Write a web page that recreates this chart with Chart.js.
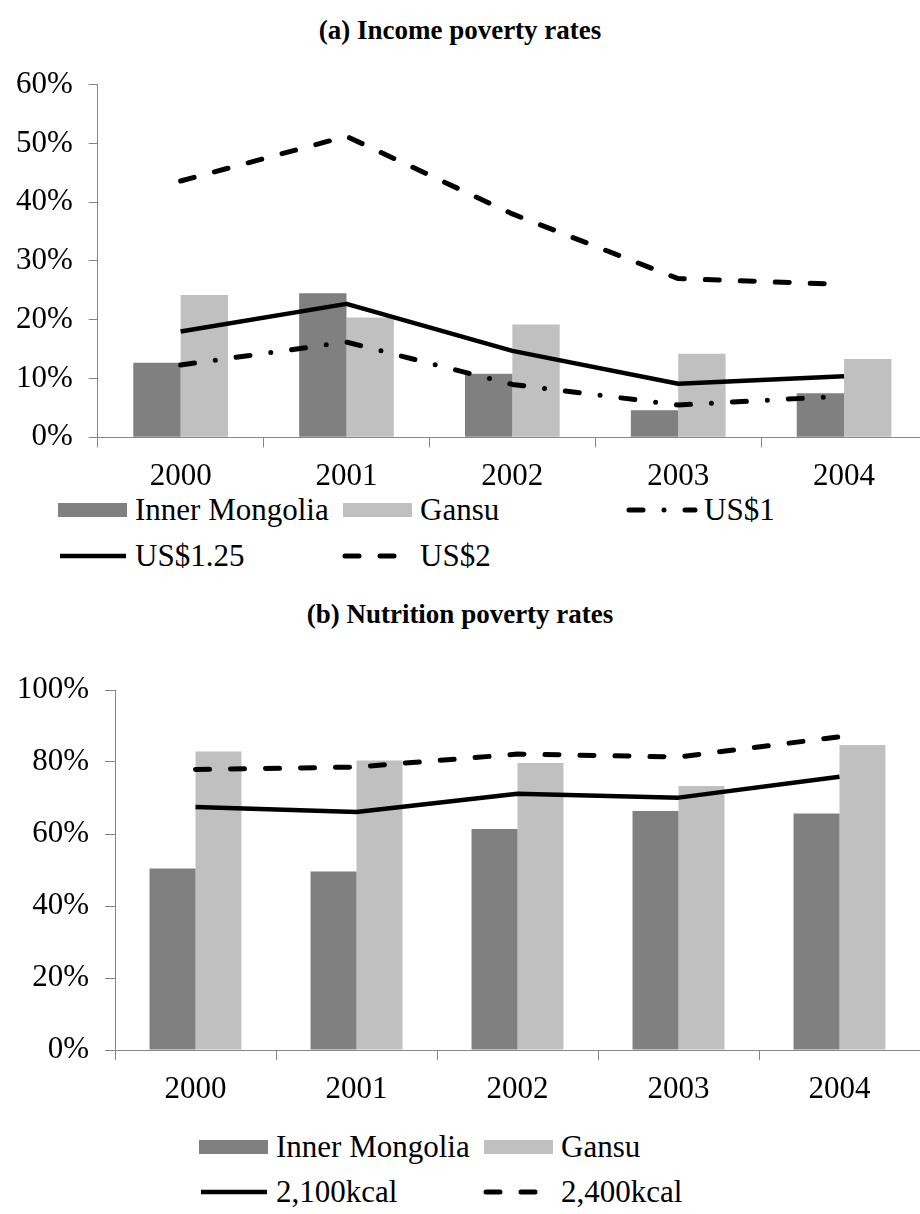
<!DOCTYPE html>
<html>
<head>
<meta charset="utf-8">
<script src="https://cdn.jsdelivr.net/npm/chart.js@4.4.1/dist/chart.umd.min.js"></script>
<style>
  html, body { margin: 0; padding: 0; background: #fff; }
  body { width: 920px; height: 1214px; overflow: hidden; position: relative;
         font-family: "Liberation Serif", "Times New Roman", serif; color: #000; }
  .title { position: absolute; left: 0; width: 920px; text-align: center;
           font-weight: bold; font-size: 27px; line-height: 32px; }
  .wrap { position: absolute; left: 0; }
  .legend-item { position: absolute; display: flex; align-items: center; height: 36px;
                 font-size: 31px; white-space: nowrap; }
  .legend-item canvas { display: block; margin-right: 6px; }
</style>
</head>
<body>
<div class="title" style="top:14px">(a) Income poverty rates</div>
<div class="wrap" style="top:50px;width:940px;height:440px"><canvas id="chartA" width="940" height="440"></canvas></div>
<div id="legendA"></div>

<div class="title" style="top:598px">(b) Nutrition poverty rates</div>
<div class="wrap" style="top:650px;width:920px;height:460px"><canvas id="chartB" width="920" height="460"></canvas></div>
<div id="legendB"></div>

<script>
// Survey years
const years = ['2000', '2001', '2002', '2003', '2004'];

// (a) Income poverty rates, percent of households
const incomeInnerMongolia = [12.7, 24.5, 10.8, 4.6, 7.5];
const incomeGansu         = [24.2, 20.4, 19.2, 14.2, 13.3];
const incomeUS1           = [12.3, 16.2, 9.0, 5.5, 7.0];
const incomeUS125         = [18.0, 22.7, 14.7, 9.1, 10.4];
const incomeUS2           = [43.6, 51.2, 38.0, 27.0, 26.0];
const incomeTicks         = [0, 10, 20, 30, 40, 50, 60];

// (b) Nutrition poverty rates, percent of households
const nutritionInnerMongolia = [50.4, 49.6, 61.4, 66.4, 65.7];
const nutritionGansu         = [82.9, 80.4, 79.7, 73.3, 84.7];
const nutrition2100          = [67.5, 66.1, 71.2, 70.1, 75.9];
const nutrition2400          = [77.9, 78.6, 82.2, 81.4, 87.0];
const nutritionTicks         = [0, 20, 40, 60, 80, 100];

const DARK = '#808080';
const LIGHT = '#c0c0c0';
const AXIS = '#868686';
const FONT = "'Liberation Serif', 'Times New Roman', serif";

// line styles
const SOLID = [];
const DASH = [14, 21];
const DASH_DOT = [14, 21, 0, 21];

function barSet(label, data, color) {
  return { type: 'bar', label, data, backgroundColor: color, borderWidth: 0,
           categoryPercentage: 0.571, barPercentage: 1.0, order: 2 };
}
function lineSet(label, data, dash) {
  return { type: 'line', label, data, borderColor: '#000',
           borderWidth: dash.length ? 5 : 4.5, borderDash: dash,
           borderCapStyle: dash.length ? 'round' : 'butt', borderJoinStyle: 'round',
           pointRadius: 0, tension: 0, fill: false, order: 1 };
}

function makeChart(id, datasets, ticks, geo) {
  const tickValues = ticks.slice();
  return new Chart(document.getElementById(id), {
    data: { labels: years, datasets },
    options: {
      responsive: false, animation: false, devicePixelRatio: 1,
      layout: { padding: { top: geo.padTop, right: geo.padRight, left: 0, bottom: 0 } },
      plugins: { legend: { display: false }, tooltip: { enabled: false }, title: { display: false } },
      scales: {
        x: {
          offset: true,
          grid: { display: true, drawOnChartArea: false, offset: true, tickLength: 10,
                  tickColor: AXIS, lineWidth: 1 },
          border: { display: true, color: AXIS, width: 1 },
          ticks: { color: '#000', font: { family: FONT, size: 31 }, padding: 11, maxRotation: 0 },
          afterFit: (s) => { s.height = geo.xHeight; }
        },
        y: {
          min: tickValues[0], max: tickValues[tickValues.length - 1],
          afterBuildTicks: (s) => { s.ticks = tickValues.map(v => ({ value: v })); },
          grid: { display: true, drawOnChartArea: false, tickLength: geo.yTick,
                  tickColor: AXIS, lineWidth: 1 },
          border: { display: true, color: AXIS, width: 1 },
          ticks: { color: '#000', font: { family: FONT, size: 31 }, padding: 16,
                    callback: (v) => v + '%' },
          afterFit: (s) => { s.width = geo.yWidth; }
        }
      }
    }
  });
}

const datasetsA = [
  barSet('Inner Mongolia', incomeInnerMongolia, DARK),
  barSet('Gansu', incomeGansu, LIGHT),
  lineSet('US$1', incomeUS1, DASH_DOT),
  lineSet('US$1.25', incomeUS125, SOLID),
  lineSet('US$2', incomeUS2, DASH)
];
const datasetsB = [
  barSet('Inner Mongolia', nutritionInnerMongolia, DARK),
  barSet('Gansu', nutritionGansu, LIGHT),
  lineSet('2,100kcal', nutrition2100, SOLID),
  lineSet('2,400kcal', nutrition2400, DASH)
];

makeChart('chartA', datasetsA, incomeTicks,
  { padTop: 28.7, padRight: 13, xHeight: 52.7, yWidth: 97.7, yTick: 9 });
makeChart('chartB', datasetsB, nutritionTicks,
  { padTop: 40, padRight: 0, xHeight: 60, yWidth: 115, yTick: 10 });

// Legends built from the dataset definitions
function buildLegend(containerId, datasets, slots) {
  const box = document.getElementById(containerId);
  datasets.forEach((ds, i) => {
    const item = document.createElement('div');
    item.className = 'legend-item';
    item.style.left = slots[i][0] + 'px';
    item.style.top = (slots[i][1] - 18) + 'px';
    const sw = document.createElement('canvas');
    sw.width = 72; sw.height = 20;
    const ctx = sw.getContext('2d');
    if (ds.type === 'bar') {
      ctx.fillStyle = ds.backgroundColor;
      ctx.fillRect(1, 3, 69, 14);
    } else {
      ctx.strokeStyle = ds.borderColor;
      ctx.lineWidth = ds.borderWidth;
      ctx.lineCap = ds.borderCapStyle;
      ctx.setLineDash(ds.borderDash);
      ctx.beginPath();
      ctx.moveTo(3, 10); ctx.lineTo(69, 10);
      ctx.stroke();
    }
    const txt = document.createElement('span');
    txt.textContent = ds.label;
    item.appendChild(sw);
    item.appendChild(txt);
    box.appendChild(item);
  });
}

buildLegend('legendA', datasetsA, [[57, 510], [342, 510], [626, 510], [57, 556], [342, 556]]);
buildLegend('legendB', datasetsB, [[198, 1147], [483, 1147], [198, 1192], [483, 1192]]);
</script>
</body>
</html>
